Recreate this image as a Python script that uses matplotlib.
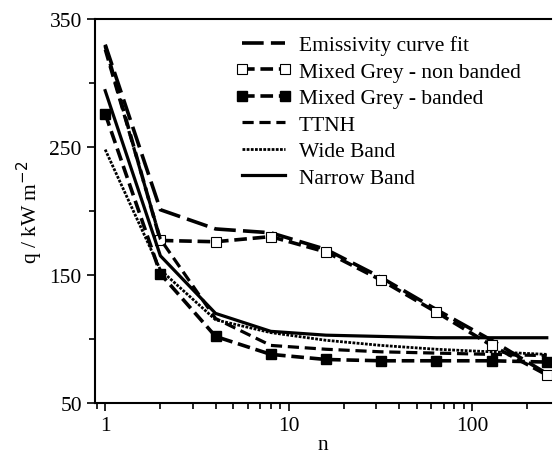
import matplotlib.pyplot as plt
from matplotlib.ticker import FixedLocator, NullFormatter, LogLocator

# data
n = [1, 2, 4, 8, 16, 32, 64, 128, 256]
emissivity = [330, 201, 186, 183, 170, 148, 123, 99, 73]
mg_non_banded = [329, 177, 176, 180, 168, 146, 121, 95, 72]
mg_banded = [276, 151, 102, 88, 84, 83, 83, 83, 82]
ttnh = [326, 178, 116, 95, 92, 90, 89, 88, 87]
wide_band = [248, 154, 115, 105, 99, 95, 92, 90, 88]
narrow_band = [294, 165, 120, 106, 103, 102, 101, 101, 101]

plt.rcParams['font.family'] = ['Liberation Serif']
plt.rcParams['font.size'] = 15.5

fig = plt.figure(figsize=(5.54, 4.60), dpi=100)
ax = fig.add_axes([0.1715, 0.1217, 0.8231, 0.8348])

ax.plot(n, emissivity, color='black', lw=2.6, dashes=(6, 2), label='Emissivity curve fit')
ax.plot(n, mg_non_banded, color='black', lw=2.6, dashes=(3.5, 1.6), marker='s',
        markevery=range(1, len(n)), markersize=6.5, markerfacecolor='white',
        markeredgecolor='black', markeredgewidth=0.8, label='Mixed Grey - non banded')
ax.plot(n, mg_banded, color='black', lw=2.6, dashes=(3.5, 1.6), marker='s',
        markersize=6.5, markerfacecolor='black', markeredgecolor='black',
        label='Mixed Grey - banded')
ax.plot(n, ttnh, color='black', lw=2.3, dashes=(3.5, 1.8), label='TTNH')
ax.plot(n, wide_band, color='black', lw=2.0, dashes=(1, 0.5), label='Wide Band')
ax.plot(n, narrow_band, color='black', lw=2.3, label='Narrow Band')

ax.set_xscale('log')
ax.set_xlim(0.88, 270)
ax.set_ylim(50, 350)
ax.set_yticks([50, 150, 250, 350])
ax.yaxis.set_minor_locator(FixedLocator([100, 200, 300]))
ax.xaxis.set_major_locator(FixedLocator([1, 10, 100]))
ax.xaxis.set_minor_locator(LogLocator(base=10, subs=range(2, 10)))
ax.xaxis.set_minor_formatter(NullFormatter())
ax.set_xticklabels(['1', '10', '100'])

ax.tick_params(which='both', direction='out', width=1.2, labelsize=15.5)
ax.tick_params(which='major', length=6)
ax.tick_params(which='minor', length=4)
for side in ['left', 'bottom', 'top']:
    ax.spines[side].set_linewidth(1.5)
ax.spines['right'].set_visible(False)

ax.set_xlabel('n', labelpad=0)
ax.set_ylabel('q / kW m$^{-2}$', labelpad=3)

ax.legend(loc='upper left', bbox_to_anchor=(0.409, 0.94), bbox_transform=fig.transFigure,
          frameon=False, numpoints=2, handlelength=2.6, handletextpad=0.35,
          labelspacing=0.3, borderaxespad=0, fontsize=15.5)

plt.savefig('out.png', dpi=100)
